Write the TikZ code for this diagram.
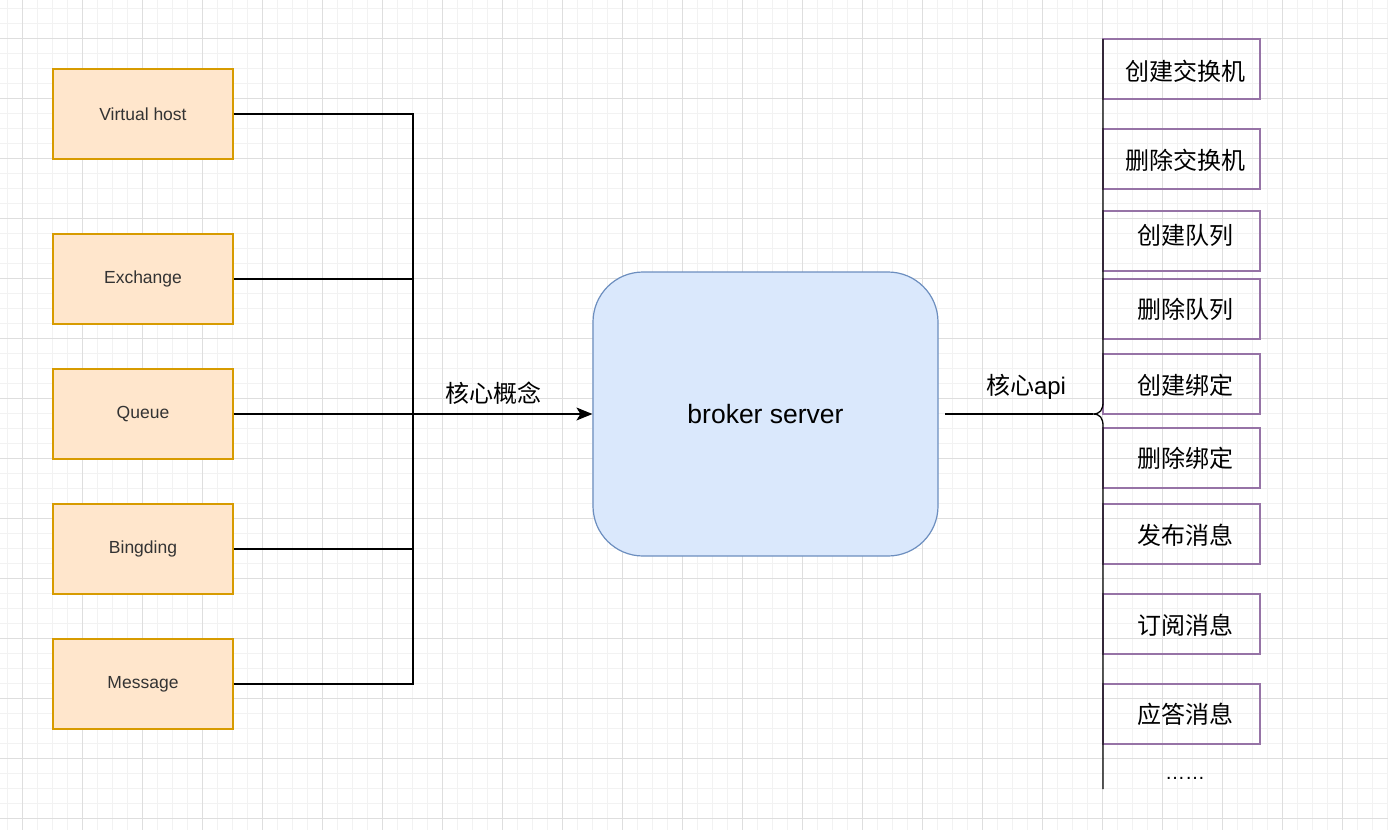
\documentclass[tikz,border=0pt]{standalone}
\usepackage{fontspec}
\setmainfont{Liberation Sans}
\newfontfamily\cjk{Noto Sans CJK SC}
\usetikzlibrary{arrows.meta}
\definecolor{orfill}{HTML}{FFE6CC}
\definecolor{ordraw}{HTML}{D79B00}
\definecolor{blfill}{HTML}{DAE8FC}
\definecolor{bldraw}{HTML}{6C8EBF}
\definecolor{pudraw}{HTML}{9673A6}
\definecolor{gridminor}{HTML}{F2F2F2}
\definecolor{gridmajor}{HTML}{DEDEDE}
\definecolor{txt}{HTML}{333333}
\tikzset{
  concept/.style={draw=ordraw, fill=orfill, line width=1.2pt, minimum width=180pt, minimum height=90pt, inner sep=0pt, text=txt, font=\fontsize{17.5pt}{20pt}\selectfont},
  apibox/.style={draw=pudraw, line width=1.2pt, inner sep=0pt, minimum width=157pt, minimum height=60pt},
  apitext/.style={inner sep=0pt, text=black, font=\fontsize{24pt}{28pt}\selectfont\cjk},
  conn/.style={line width=1.3pt, black},
  lbl/.style={inner sep=0pt, font=\fontsize{24pt}{28pt}\selectfont},
}
\begin{document}
\begin{tikzpicture}[x=1pt, y=-1pt]
\useasboundingbox (0,0) rectangle (1388,830);
\fill[white] (0,0) rectangle (1388,830);
% grid
\foreach \x in {7,22,...,1388} \draw[gridminor, line width=0.8pt] (\x,0) -- (\x,830);
\foreach \y in {8,23,...,830} \draw[gridminor, line width=0.8pt] (0,\y) -- (1388,\y);
\foreach \x in {22,82,...,1388} \draw[gridmajor, line width=0.9pt] (\x,0) -- (\x,830);
\foreach \y in {38,98,...,830} \draw[gridmajor, line width=0.9pt] (0,\y) -- (1388,\y);

% concept boxes
\node[concept] (vh) at (143,114) {Virtual host};
\node[concept] (ex) at (143,279) {Exchange};
\node[concept] (qu) at (143,414) {Queue};
\node[concept] (bi) at (143,549) {Bingding};
\node[concept] (me) at (143,684) {Message};

% broker
\node[draw=bldraw, fill=blfill, line width=1.2pt, rounded corners=50pt, minimum width=345pt, minimum height=284pt, inner sep=0pt, font=\fontsize{26.5pt}{30pt}\selectfont] (br) at (765.5,414) {broker server};

% bus
\coordinate (j) at (413,414);
\draw[conn] (vh.east) -| (j);
\draw[conn] (ex.east) -| (j);
\draw[conn] (bi.east) -| (j);
\draw[conn] (me.east) -| (j);
\draw[conn, -{Stealth[length=16pt, width=13pt, inset=4pt]}] (qu.east) -- (br.west);
\node[lbl] (l1) at (493,393) {\cjk 核心概念};

% api boxes
\node[apibox] (a1) at (1181.5,69) {};
\node[apibox] (a2) at (1181.5,159) {};
\node[apibox] (a3) at (1181.5,241) {};
\node[apibox] (a4) at (1181.5,309) {};
\node[apibox] (a5) at (1181.5,384) {};
\node[apibox] (a6) at (1181.5,458) {};
\node[apibox] (a7) at (1181.5,534) {};
\node[apibox] (a8) at (1181.5,624) {};
\node[apibox] (a9) at (1181.5,714) {};
\node[apitext] (t1) at (1185,71) {创建交换机};
\node[apitext] (t2) at (1185,160) {删除交换机};
\node[apitext] (t3) at (1185,235) {创建队列};
\node[apitext] (t4) at (1185,309) {删除队列};
\node[apitext] (t5) at (1185,385) {创建绑定};
\node[apitext] (t6) at (1185,458) {删除绑定};
\node[apitext] (t7) at (1185,535) {发布消息};
\node[apitext] (t8) at (1185,625) {订阅消息};
\node[apitext] (t9) at (1185,714) {应答消息};
\node[inner sep=0pt, font=\fontsize{20pt}{24pt}\selectfont] (dots) at (1185,778) {……};

% brace
\coordinate (btop) at (1103,39);
\coordinate (bbot) at (1103,789);
\coordinate (btip) at (1093,414);
\draw[conn] (btop) -- (1103,402) .. controls (1103,410) and (1100,414) .. (btip) .. controls (1100,414) and (1103,418) .. (1103,426) -- (bbot);
\coordinate (bs) at (945,414);
\draw[conn] (bs) -- (btip);
\node[lbl] (l2) at (1026,387) {{\cjk 核心}api};
\end{tikzpicture}
\end{document}
